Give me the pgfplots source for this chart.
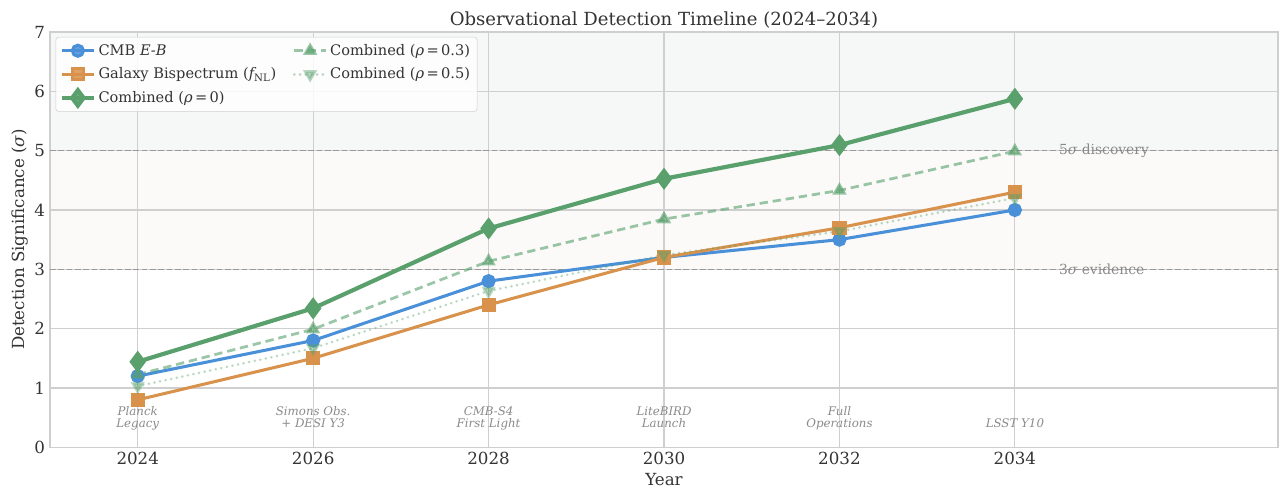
\documentclass[border=0pt]{standalone}
\usepackage{pgfplots}
\pgfplotsset{compat=1.18}
\usepackage{fontspec}
\setmainfont{DejaVu Serif}
\definecolor{cblue}{HTML}{4A90D9}
\definecolor{corange}{HTML}{D8924B}
\definecolor{cgreen}{HTML}{59A06C}
\definecolor{gridc}{HTML}{CFCFCF}
\definecolor{bghigh}{HTML}{F6F8F8}
\definecolor{bgmid}{HTML}{FBFAF9}
\definecolor{txt}{HTML}{333333}
\definecolor{anno}{HTML}{8A8A8A}
\begin{document}
\begin{tikzpicture}
\begin{axis}[
  set layers,
  scale only axis,
  width=884pt, height=299pt,
  xmin=2023, xmax=2037, ymin=0, ymax=7,
  xtick={2024,2026,2028,2030,2032,2034},
  ytick={0,1,2,3,4,5,6,7},
  xticklabel style={/pgf/number format/1000 sep={}},
  /pgf/number format/assume math mode=true,
  tick label style={font=\fontsize{12}{14}\selectfont, text=txt},
  tick style={draw=none},
  grid=major,
  major grid style={draw=gridc, line width=0.8pt},
  axis line style={draw=gridc, line width=0.9pt},
  title={\fontsize{13}{15}\selectfont Observational Detection Timeline (2024–2034)},
  title style={text=txt, yshift=-7pt},
  xlabel={\fontsize{12}{14}\selectfont Year},
  ylabel={\fontsize{12}{14}\selectfont Detection Significance ({\itshape σ})},
  label style={text=txt},
  xlabel style={yshift=1pt},
  ylabel style={yshift=-2pt},
  legend columns=3, transpose legend,
  legend cell align=left,
  legend style={at={(rel axis cs:0.0045,0.988)}, anchor=north west,
    font=\fontsize{10.5}{12.5}\selectfont, draw=gridc, rounded corners=2pt,
    fill=white, fill opacity=0.85, text opacity=1, text=txt,
    inner xsep=3pt, inner ysep=3pt,
    /tikz/every even column/.append style={column sep=10pt},
    row sep=3.5pt},
  legend image code/.code={
    \draw[#1] (0cm,0cm) -- (0.25cm,0cm) -- (0.5cm,0cm) -- (0.8cm,0cm);
    \draw[#1, only marks] plot coordinates {(0.4cm,0cm)};
  },
]
\begin{pgfonlayer}{axis background}
\fill[bghigh] (axis cs:2023,5) rectangle (axis cs:2037,7);
\fill[bgmid] (axis cs:2023,3) rectangle (axis cs:2037,5);
\end{pgfonlayer}
\addplot[forget plot, draw=gray!80, line width=0.9pt, dash pattern=on 4pt off 2pt] coordinates {(2023,5) (2037,5)};
\addplot[forget plot, draw=gray!80, line width=0.9pt, dash pattern=on 4pt off 2pt] coordinates {(2023,3) (2037,3)};

\addplot[cblue, line width=2.2pt, mark=*, mark size=4pt, mark options={solid, fill=cblue, draw=cblue}]
 coordinates {(2024,1.2) (2026,1.8) (2028,2.8) (2030,3.2) (2032,3.5) (2034,4.0)};
\addlegendentry{CMB \textit{E-B}}
\addplot[corange, line width=2.2pt, mark=square*, mark size=4pt, mark options={solid, fill=corange, draw=corange}]
 coordinates {(2024,0.8) (2026,1.5) (2028,2.4) (2030,3.2) (2032,3.7) (2034,4.3)};
\addlegendentry{Galaxy Bispectrum ({\itshape f}\textsubscript{NL})}
\addplot[cgreen, line width=3pt, mark=diamond*, mark size=5.5pt, mark options={solid, fill=cgreen, draw=cgreen}]
 coordinates {(2024,1.442) (2026,2.343) (2028,3.688) (2030,4.525) (2032,5.093) (2034,5.873)};
\addlegendentry{Combined ({\itshape ρ}\,=\,0)}
\addplot[cgreen, opacity=0.6, line width=2pt, dash pattern=on 6pt off 3.5pt, mark=triangle*, mark size=4pt, mark options={solid, fill=cgreen, draw=cgreen}]
 coordinates {(2024,1.226) (2026,1.99) (2028,3.135) (2030,3.846) (2032,4.329) (2034,4.99)};
\addlegendentry{Combined ({\itshape ρ}\,=\,0.3)}
\addplot[cgreen, opacity=0.4, line width=2pt, line cap=round, dash pattern=on 0.1pt off 4pt, mark=triangle*, mark size=4pt, mark options={solid, fill=cgreen, draw=cgreen, rotate=180}]
 coordinates {(2024,1.03) (2026,1.67) (2028,2.635) (2030,3.24) (2032,3.64) (2034,4.2)};
\addlegendentry{Combined ({\itshape ρ}\,=\,0.5)}

\node[anchor=west, text=anno, font=\fontsize{10}{12}\selectfont, inner sep=0pt] at (axis cs:2034.5,5) {5{\itshape σ} discovery};
\node[anchor=west, text=anno, font=\fontsize{10}{12}\selectfont, inner sep=0pt] at (axis cs:2034.5,3) {3{\itshape σ} evidence};

\begin{scope}[every node/.style={anchor=south, align=center, text=anno, inner sep=0pt, font=\fontsize{8.5}{9}\itshape}]
\node at (axis cs:2024,0.26) {Planck\\Legacy\strut};
\node at (axis cs:2026,0.26) {Simons Obs.\\+ DESI Y3\strut};
\node at (axis cs:2028,0.26) {CMB-S4\\First Light\strut};
\node at (axis cs:2030,0.26) {LiteBIRD\\Launch\strut};
\node at (axis cs:2032,0.26) {Full\\Operations\strut};
\node at (axis cs:2034,0.26) {LSST Y10\strut};
\end{scope}
\end{axis}
\pgfresetboundingbox
\path (current axis.south west) ++(-36pt,-30pt) coordinate (bl);
\path (current axis.north east) ++(0.7pt,23pt) coordinate (tr);
\useasboundingbox (bl) rectangle (tr);
\end{tikzpicture}
\end{document}
